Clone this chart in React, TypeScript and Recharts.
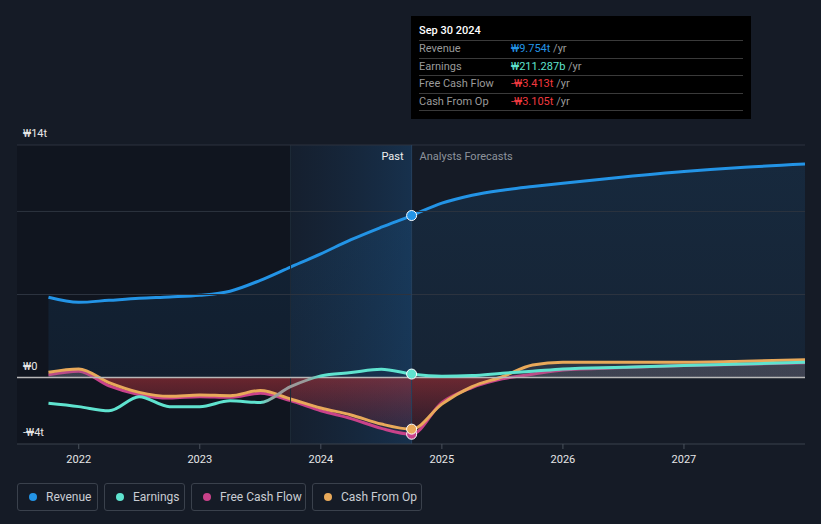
import { ComposedChart, Area, Line, XAxis, YAxis, ReferenceLine, ReferenceArea, ReferenceDot } from "recharts";

// quarterly history to Sep 2024, then analyst forecasts (₩ trillions)
const years = [
  2021.75, 2022, 2022.25, 2022.5, 2022.75, 2023, 2023.25, 2023.5, 2023.75, 2024, 2024.25, 2024.5, 2024.75,
  2025, 2025.25, 2025.5, 2025.75, 2026, 2026.5, 2027, 2027.5, 2028,
];
const revenue = [
  4.83, 4.53, 4.65, 4.77, 4.85, 4.95, 5.2, 5.85, 6.65, 7.45, 8.3, 9.05, 9.754,
  10.5, 10.98, 11.28, 11.5, 11.7, 12.07, 12.4, 12.66, 12.85,
];
const earnings = [
  -1.55, -1.75, -2.0, -1.15, -1.75, -1.75, -1.4, -1.5, -0.55, 0.1, 0.3, 0.5, 0.211,
  0.08, 0.12, 0.26, 0.38, 0.52, 0.62, 0.72, 0.82, 0.92,
];
const freeCashFlow = [
  0.16, 0.38, -0.5, -1.03, -1.23, -1.15, -1.19, -0.95, -1.39, -2.0, -2.47, -3.06, -3.413,
  -1.5, -0.6, -0.08, 0.2, 0.46, 0.6, 0.72, 0.8, 0.89,
];
const cashFromOp = [
  0.32, 0.52, -0.3, -0.89, -1.13, -1.05, -1.09, -0.78, -1.29, -1.83, -2.25, -2.8, -3.105,
  -1.6, -0.55, 0.05, 0.75, 0.92, 0.92, 0.92, 0.98, 1.07,
];

const yearTicks = [2022, 2023, 2024, 2025, 2026, 2027];
const gridValues = [14, 10, 5];
const axisLabels = [
  { value: 14, text: "₩14t" },
  { value: 0, text: "₩0" },
  { value: -4, text: "-₩4t" },
];
const xDomain = [2021.49, 2028];
const yDomain = [-4, 14];
const pastEnd = 2024.75;
const highlightStart = 2023.75;
const pastIndex = years.indexOf(pastEnd);

const tooltipRows = [
  { label: "Revenue", value: "₩9.754t", color: "#2394e6" },
  { label: "Earnings", value: "₩211.287b", color: "#5fe3cf" },
  { label: "Free Cash Flow", value: "-₩3.413t", color: "#f0393f" },
  { label: "Cash From Op", value: "-₩3.105t", color: "#f0393f" },
];

const legendItems = [
  { label: "Revenue", color: "#2394e6", width: 81 },
  { label: "Earnings", color: "#5fe3cf", width: 81 },
  { label: "Free Cash Flow", color: "#c9428a", width: 115 },
  { label: "Cash From Op", color: "#e8a95a", width: 110 },
];

const FONT = "Roboto, 'Noto Sans', sans-serif";

const data = years.map((x, i) => ({
  x,
  revenue: revenue[i],
  earnings: earnings[i],
  fcf: freeCashFlow[i],
  cfo: cashFromOp[i],
}));

const AxisText = ({ viewBox, text }: any) => (
  <text x={23} y={viewBox.y - 8} fill="#e8e8e8" fontSize={11} fontFamily={FONT}>
    {text}
  </text>
);

const PastLabel = ({ viewBox }: any) => (
  <g fontFamily={FONT} fontSize={11}>
    <text x={viewBox.x - 8} y={viewBox.y + 15} fill="#f0f0f0" textAnchor="end">
      Past
    </text>
    <text x={viewBox.x + 8} y={viewBox.y + 15} fill="#8d939c">
      Analysts Forecasts
    </text>
  </g>
);

export default function App() {
  return (
    <div
      style={{
        position: "fixed",
        left: 0,
        top: 0,
        width: 821,
        height: 524,
        background: "#151b26",
        fontFamily: FONT,
        overflow: "hidden",
      }}
    >
      <ComposedChart width={821} height={524} data={data} margin={{ top: 145, right: 16, bottom: 50, left: 17 }}>
        <defs>
          <linearGradient id="highlight" x1="0" y1="0" x2="1" y2="0">
            <stop offset="0%" stopColor="#152234" stopOpacity={0.6} />
            <stop offset="100%" stopColor="#17324f" stopOpacity={0.95} />
          </linearGradient>
          <linearGradient id="revFill" x1="0" y1="0" x2="0" y2="1">
            <stop offset="0%" stopColor="#1d5d94" stopOpacity={0.35} />
            <stop offset="100%" stopColor="#1d5d94" stopOpacity={0.22} />
          </linearGradient>
          <linearGradient id="cashFill" gradientUnits="userSpaceOnUse" x1="0" y1="145" x2="0" y2="444">
            <stop offset="0%" stopColor="#7d7480" stopOpacity={0.4} />
            <stop offset="77.5%" stopColor="#7d7480" stopOpacity={0.4} />
            <stop offset="77.6%" stopColor="#b3333a" stopOpacity={0.6} />
            <stop offset="100%" stopColor="#6a2238" stopOpacity={0.15} />
          </linearGradient>
          <linearGradient id="earnStroke" x1="0" y1="0" x2="1" y2="0">
            <stop offset="0%" stopColor="#5fe3cf" />
            <stop offset="28%" stopColor="#5fe3cf" />
            <stop offset="30%" stopColor="#9a9a9a" />
            <stop offset="34%" stopColor="#9a9a9a" />
            <stop offset="36%" stopColor="#5fe3cf" />
            <stop offset="100%" stopColor="#5fe3cf" />
          </linearGradient>
        </defs>

        <XAxis
          type="number"
          dataKey="x"
          domain={xDomain}
          ticks={yearTicks}
          allowDataOverflow
          tickFormatter={(v) => String(v)}
          tick={{ fill: "#e6e6e6", fontSize: 11, fontFamily: FONT }}
          tickLine={{ stroke: "#4a515c" }}
          tickSize={5}
          tickMargin={6}
          axisLine={{ stroke: "#3b424d" }}
          height={30}
        />
        <YAxis hide domain={yDomain} type="number" allowDataOverflow />

        <ReferenceArea x1={xDomain[0]} x2={highlightStart} y1={yDomain[0]} y2={yDomain[1]} fill="#0c1017" fillOpacity={0.5} />
        <ReferenceArea x1={highlightStart} x2={pastEnd} y1={yDomain[0]} y2={yDomain[1]} fill="url(#highlight)" fillOpacity={1} />
        <ReferenceLine x={highlightStart} stroke="#1e2a38" />

        {gridValues.map((v) => (
          <ReferenceLine key={v} y={v} stroke="#2c333f" />
        ))}

        <Area
          type="monotone"
          dataKey="revenue"
          stroke="#2394e6"
          strokeWidth={3}
          fill="url(#revFill)"
          baseValue={0}
          isAnimationActive={false}
        />
        <Area
          type="monotone"
          dataKey="fcf"
          stroke="#c9428a"
          strokeWidth={3}
          fill="url(#cashFill)"
          baseValue={0}
          isAnimationActive={false}
        />
        <Area
          type="monotone"
          dataKey="cfo"
          stroke="#e8a95a"
          strokeWidth={3}
          fill="url(#cashFill)"
          fillOpacity={0.5}
          baseValue={0}
          isAnimationActive={false}
        />
        <ReferenceLine y={0} stroke="#b8b8b8" strokeWidth={1.5} />
        <Line
          type="monotone"
          dataKey="earnings"
          stroke="url(#earnStroke)"
          strokeWidth={3}
          dot={false}
          isAnimationActive={false}
        />

        <ReferenceLine x={pastEnd} stroke="#25415d" label={<PastLabel />} ifOverflow="visible" />
        {axisLabels.map((a) => (
          <ReferenceLine key={a.text} y={a.value} stroke="none" label={<AxisText text={a.text} />} />
        ))}

        <ReferenceDot x={pastEnd} y={revenue[pastIndex]} r={5} fill="#2394e6" stroke="#ffffff" strokeWidth={1} />
        <ReferenceDot x={pastEnd} y={earnings[pastIndex]} r={5} fill="#5fe3cf" stroke="#ffffff" strokeWidth={1} />
        <ReferenceDot x={pastEnd} y={freeCashFlow[pastIndex]} r={5} fill="#c9428a" stroke="#ffffff" strokeWidth={1} />
        <ReferenceDot x={pastEnd} y={cashFromOp[pastIndex]} r={5} fill="#e8a95a" stroke="#ffffff" strokeWidth={1} />
      </ComposedChart>

      <div
        style={{
          position: "absolute",
          left: 411,
          top: 16,
          width: 340,
          height: 103,
          background: "#000000",
          boxSizing: "border-box",
          padding: "7px 8px 0 8px",
          fontSize: 11,
        }}
      >
        <div style={{ color: "#ffffff", fontWeight: 500, height: 17, lineHeight: "16px" }}>Sep 30 2024</div>
        {tooltipRows.map((r) => (
          <div
            key={r.label}
            style={{
              borderTop: "1px solid #3a3a3a",
              height: 16.5,
              lineHeight: "16.5px",
              display: "flex",
              color: "#9a9a9a",
            }}
          >
            <span style={{ width: 92 }}>{r.label}</span>
            <span>
              <span style={{ color: r.color }}>{r.value}</span> /yr
            </span>
          </div>
        ))}
        <div style={{ borderTop: "1px solid #3a3a3a" }} />
      </div>

      <div style={{ position: "absolute", left: 17, top: 483, display: "flex", gap: 6 }}>
        {legendItems.map((item) => (
          <div
            key={item.label}
            style={{
              width: item.width,
              height: 28,
              boxSizing: "border-box",
              border: "1px solid #3a414c",
              borderRadius: 3,
              display: "flex",
              alignItems: "center",
              paddingLeft: 11,
              color: "#c9cdd3",
              fontSize: 12,
            }}
          >
            <span
              style={{
                width: 8,
                height: 8,
                borderRadius: 4,
                background: item.color,
                marginRight: 9,
              }}
            />
            {item.label}
          </div>
        ))}
      </div>
    </div>
  );
}
